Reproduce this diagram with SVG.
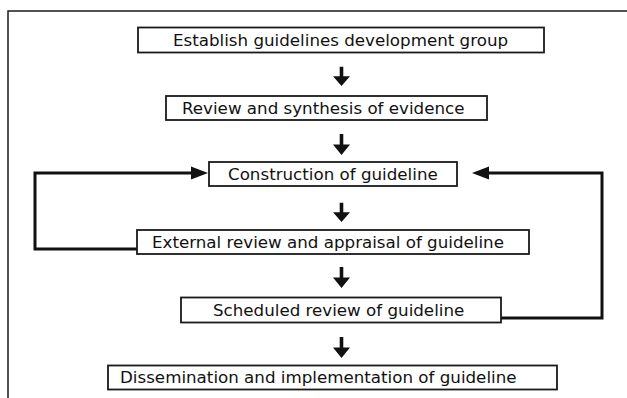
<svg xmlns="http://www.w3.org/2000/svg" width="627" height="398" viewBox="0 0 627 398">
  <style>
    .box { fill: #ffffff; stroke: #1a1a1a; stroke-width: 1.8; }
    .label { font-family: "DejaVu Sans", Verdana, sans-serif; font-size: 16.7px; fill: #111111; }
    .arrow { fill: #111111; stroke: none; }
    .loop { stroke: #111111; stroke-width: 3; fill: none; stroke-linejoin: miter; }
    .frame { stroke: #1a1a1a; stroke-width: 1.5; fill: none; }
  </style>
  <defs>
    <!-- block arrow pointing down: stem then a wide head, tip at (0,0) -->
    <path id="down-arrow" d="M-1.8,-21 H1.8 V-10.5 H8.5 L0,0 L-8.5,-10.5 H-1.8 Z"/>
    <!-- filled head for the feedback loops; the line stops 7px short of the tip -->
    <marker id="side" markerUnits="userSpaceOnUse" markerWidth="18" markerHeight="14" viewBox="0 0 18 14" refX="10" refY="7" orient="auto">
      <path d="M0,0.5 L17,7 L0,13.5 Z" fill="#111111"/>
    </marker>
  </defs>

  <rect width="627" height="398" fill="#ffffff"/>
  <path class="frame" d="M8,398 V11 H627"/>

  <g id="connectors">
    <use class="arrow" href="#down-arrow" transform="translate(341.5,86) scale(1,0.92)"/>
    <use class="arrow" href="#down-arrow" transform="translate(341.5,155)"/>
    <use class="arrow" href="#down-arrow" transform="translate(341.5,222) scale(1,0.92)"/>
    <use class="arrow" href="#down-arrow" transform="translate(341.5,288)"/>
    <use class="arrow" href="#down-arrow" transform="translate(341.5,358)"/>
    <polyline class="loop" points="137,249 35,249 35,173 201,173" marker-end="url(#side)"/>
    <polyline class="loop" points="501,318 602,318 602,173 479,173" marker-end="url(#side)"/>
  </g>

  <g id="establish-group">
    <rect class="box" x="138" y="27.5" width="406" height="25"/>
    <text class="label" x="173" y="46">Establish guidelines development group</text>
  </g>
  <g id="review-evidence">
    <rect class="box" x="166" y="96" width="321" height="24"/>
    <text class="label" x="182" y="114">Review and synthesis of evidence</text>
  </g>
  <g id="construction">
    <rect class="box" x="209" y="162" width="248" height="24"/>
    <text class="label" x="228" y="180">Construction of guideline</text>
  </g>
  <g id="external-review">
    <rect class="box" x="137" y="230" width="392" height="24"/>
    <text class="label" x="152" y="248">External review and appraisal of guideline</text>
  </g>
  <g id="scheduled-review">
    <rect class="box" x="181" y="297.5" width="320" height="25"/>
    <text class="label" x="213" y="316">Scheduled review of guideline</text>
  </g>
  <g id="dissemination">
    <rect class="box" x="108" y="365.5" width="449" height="24"/>
    <text class="label" x="120" y="383">Dissemination and implementation of guideline</text>
  </g>
</svg>
